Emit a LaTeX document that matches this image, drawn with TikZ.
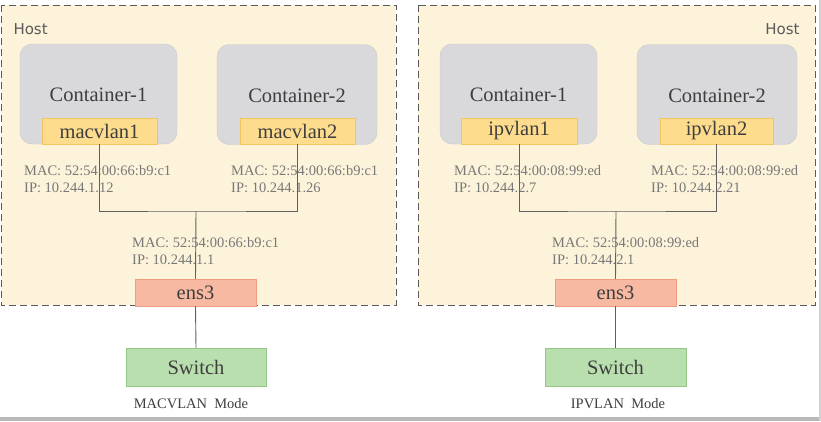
\documentclass[tikz,border=0pt]{standalone}
\usepackage{fontspec}
\setmainfont{Liberation Serif}
\setsansfont{DejaVu Sans}

\definecolor{hostfill}{HTML}{FDF3DA}
\definecolor{hostline}{HTML}{5A5A5A}
\definecolor{ctfill}{HTML}{D9D9DB}
\definecolor{ctline}{HTML}{C9C9CD}
\definecolor{viffill}{HTML}{FDDC8E}
\definecolor{vifline}{HTML}{F4C662}
\definecolor{nicfill}{HTML}{F8B9A2}
\definecolor{nicline}{HTML}{F09C7E}
\definecolor{swfill}{HTML}{B9DFAF}
\definecolor{swline}{HTML}{95C887}
\definecolor{labeltext}{HTML}{3E3E3E}
\definecolor{infotext}{HTML}{787878}
\definecolor{wire}{HTML}{606060}

\tikzset{
  host/.style={draw=hostline, dashed, dash pattern=on 7pt off 4pt, fill=hostfill, line width=0.8pt},
  hostlabel/.style={font=\sffamily\fontsize{15}{18}\selectfont, text=hostline},
  container/.style={draw=ctline, fill=ctfill, rounded corners=12pt, minimum width=157pt, minimum height=100pt, inner sep=0pt},
  ctlabel/.style={font=\fontsize{20.5}{24}\selectfont, text=labeltext},
  vif/.style={draw=vifline, fill=viffill, minimum width=115pt, minimum height=26pt, inner sep=0pt, font=\fontsize{20.5}{24}\selectfont, text=labeltext},
  nic/.style={draw=nicline, fill=nicfill, minimum width=121pt, minimum height=27pt, inner sep=0pt, font=\fontsize{20.5}{24}\selectfont, text=labeltext},
  switchbox/.style={draw=swline, fill=swfill, minimum width=140pt, minimum height=38pt, inner sep=0pt, font=\fontsize{20.5}{24}\selectfont, text=labeltext},
  info/.style={anchor=west, align=left, inner sep=0pt, font=\fontsize{14.5}{17.7}\selectfont, text=infotext},
  modelabel/.style={font=\fontsize{14.5}{17}\selectfont, text=labeltext},
  wireline/.style={draw=wire, line width=0.9pt}
}

\begin{document}
\begin{tikzpicture}[x=1pt, y=-1pt]
\useasboundingbox (0,0) rectangle (821,421);

% screenshot shadow at the edges
\fill[gray!55] (0,417) rectangle (821,421);
\fill[gray!35] (818.5,0) rectangle (821,421);

% ---------------- MACVLAN (left) ----------------
\draw[host] (1,5) rectangle (396,305);
\node[hostlabel, anchor=west] (lhost) at (10,29) {Host};

\node[container] (lct1) at (98.5,94) {};
\node[container, minimum width=160pt] (lct2) at (297,94.5) {};
\node[ctlabel] (lct1t) at (98.5,95) {Container-1};
\node[ctlabel] (lct2t) at (297,96) {Container-2};

\node[vif] (lvif1) at (99.5,131) {macvlan1};
\node[vif] (lvif2) at (297.5,131) {macvlan2};

\node[info] (linfo1) at (24,179) {MAC: 52:54:00:66:b9:c1\\IP: 10.244.1.12};
\node[info] (linfo2) at (231,179) {MAC: 52:54:00:66:b9:c1\\IP: 10.244.1.26};
\node[info] (linfo3) at (132,251) {MAC: 52:54:00:66:b9:c1\\IP: 10.244.1.1};

\coordinate (lj) at (196,211);

% wires: veth ends join, then down to the nic and the switch
\draw[wireline] (lvif1.south) |- (lj) -| (lvif2.south);
\draw[wireline] (lj) -- (195.5,279);

\node[nic] (lnic) at (195.5,292.5) {ens3};
\node[switchbox] (lsw) at (196,367) {Switch};
\draw[wireline] (lnic.south) -- (lsw.north);

\node[modelabel] (lmode) at (191,404) {MACVLAN\ \ Mode};

% ---------------- IPVLAN (right) ----------------
\draw[host] (418,5) rectangle (815,305);
\node[hostlabel, anchor=east] (rhost) at (803,29) {Host};

\node[container] (rct1) at (518.5,94) {};
\node[container, minimum width=160pt] (rct2) at (717,94.5) {};
\node[ctlabel] (rct1t) at (518.5,95) {Container-1};
\node[ctlabel] (rct2t) at (717,96) {Container-2};

\node[vif, minimum width=116pt] (rvif1) at (519,131) {ipvlan1};
\node[vif, minimum width=113pt] (rvif2) at (716.5,131) {ipvlan2};

\node[info] (rinfo1) at (454,179) {MAC: 52:54:00:08:99:ed\\IP: 10.244.2.7};
\node[info] (rinfo2) at (651,179) {MAC: 52:54:00:08:99:ed\\IP: 10.244.2.21};
\node[info] (rinfo3) at (552,251) {MAC: 52:54:00:08:99:ed\\IP: 10.244.2.1};

\coordinate (rj) at (616,211);

\draw[wireline] (rvif1.south) |- (rj) -| (rvif2.south);
\draw[wireline] (rj) -- (615.5,279);

\node[nic] (rnic) at (615.5,292.5) {ens3};
\node[switchbox, minimum width=141pt] (rsw) at (615.5,367) {Switch};
\draw[wireline] (rnic.south) -- (rsw.north);

\node[modelabel] (rmode) at (618,404) {IPVLAN\ \ Mode};

\end{tikzpicture}
\end{document}
